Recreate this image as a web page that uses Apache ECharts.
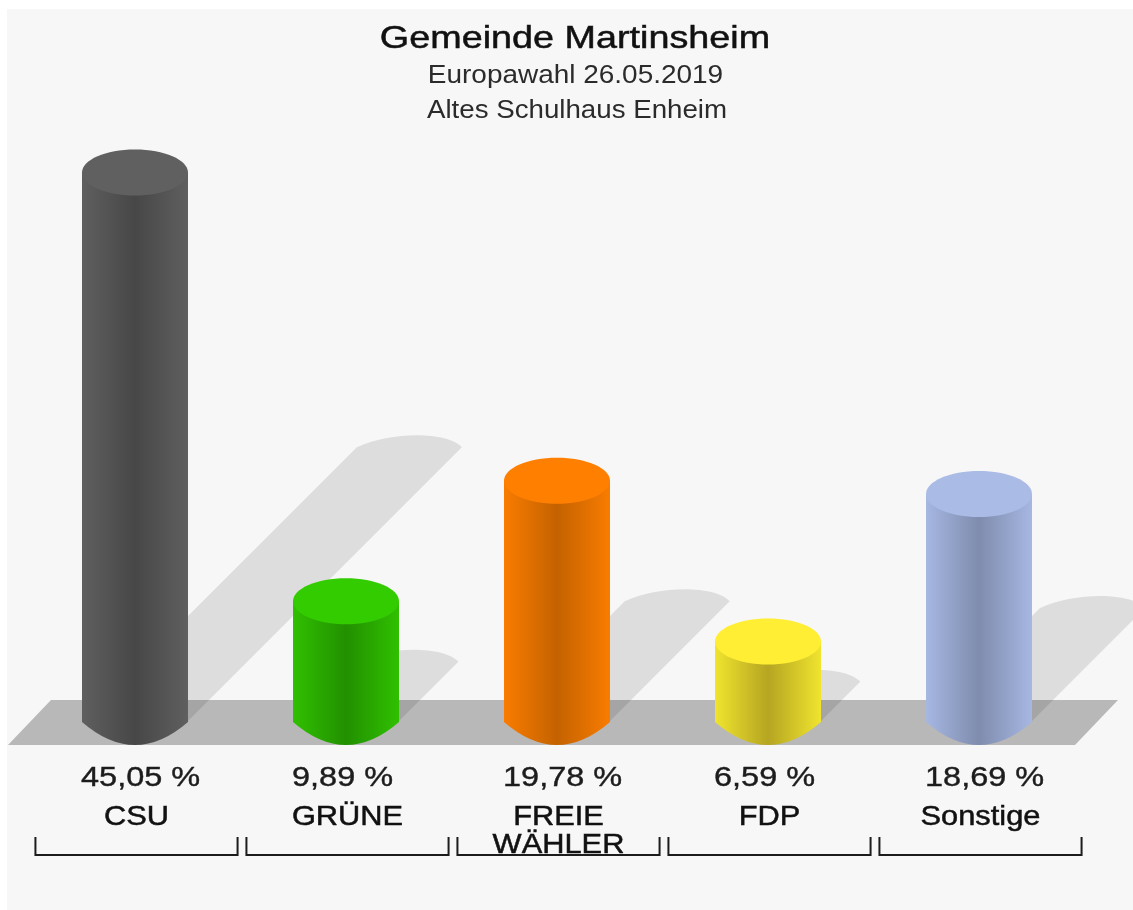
<!DOCTYPE html>
<html>
<head>
<meta charset="utf-8">
<style>
  html, body { margin: 0; padding: 0; background: #ffffff; }
  #chart-container { width: 1133px; height: 910px; }
</style>
<script src="https://cdn.jsdelivr.net/npm/echarts@6/dist/echarts.min.js"></script>
</head>
<body>
<div id="chart-container"></div>
<script>
var parties = ['CSU', 'GRÜNE', 'FREIE\nWÄHLER', 'FDP', 'Sonstige'];
var shares = [45.05, 9.89, 19.78, 6.59, 18.69];
var topColors = ['#606060', '#33cc00', '#ff7f00', '#ffee33', '#aabbe6'];
var sideColors = ['#5f5f5f', '#30c000', '#f97c00', '#f0e42e', '#a6b7e2'];
var darkColors = ['#474747', '#229000', '#c46200', '#b5a522', '#7f8cad'];

var RX = 53;
var TOP_RY = 23;
var BOTTOM_RY = 23;
var FONT = '"Liberation Sans", Arial, sans-serif';

function ellipsePath(cx, cy, rx, ry) {
    var kx = rx * 0.5523;
    var ky = ry * 0.5523;
    return 'M' + (cx - rx) + ' ' + cy +
        'C' + (cx - rx) + ' ' + (cy - ky) + ' ' + (cx - kx) + ' ' + (cy - ry) + ' ' + cx + ' ' + (cy - ry) +
        'C' + (cx + kx) + ' ' + (cy - ry) + ' ' + (cx + rx) + ' ' + (cy - ky) + ' ' + (cx + rx) + ' ' + cy +
        'C' + (cx + rx) + ' ' + (cy + ky) + ' ' + (cx + kx) + ' ' + (cy + ry) + ' ' + cx + ' ' + (cy + ry) +
        'C' + (cx - kx) + ' ' + (cy + ry) + ' ' + (cx - rx) + ' ' + (cy + ky) + ' ' + (cx - rx) + ' ' + cy + 'Z';
}

// shadow is the cylinder sheared 45deg, half as long as the bar
function renderShadow(params, api) {
    var base = api.coord([api.value(0), 0]);
    var top = api.coord([api.value(0), api.value(1)]);
    var cx = base[0] - 1.5;
    var t = (base[1] - top[1]) / 2;
    var ty = base[1] - t;
    var d = 'M' + (cx - RX) + ' ' + base[1] +
        'L' + (cx - RX + t) + ' ' + ty +
        'C' + (cx - RX + t + 34) + ' ' + (ty - 16) + ' ' + (cx + RX + t - 15) + ' ' + (ty - 16) + ' ' + (cx + RX + t - 1) + ' ' + ty +
        'L' + (cx + RX - 1) + ' ' + base[1] + 'Z';
    return {
        type: 'path',
        shape: { pathData: d },
        style: { fill: 'rgba(0,0,0,0.1)' }
    };
}

function renderBar(params, api) {
    var i = params.dataIndex;
    var base = api.coord([api.value(0), 0]);
    var top = api.coord([api.value(0), api.value(1)]);
    var band = api.size([1, 0])[0];
    var cx = base[0] - 1.5;
    var y0 = base[1];
    var y1 = top[1];
    var body = 'M' + (cx - RX) + ' ' + y1 +
        'L' + (cx - RX) + ' ' + y0 +
        'Q' + cx + ' ' + (y0 + 2 * BOTTOM_RY) + ' ' + (cx + RX) + ' ' + y0 +
        'L' + (cx + RX) + ' ' + y1 + 'Z';
    var left = base[0] - band * 0.479;
    var right = base[0] + band * 0.479;

    return {
        type: 'group',
        children: [
            {
                type: 'path',
                shape: { pathData: body },
                style: {
                    fill: new echarts.graphic.LinearGradient(0, 0, 1, 0, [
                        { offset: 0, color: sideColors[i] },
                        { offset: 0.5, color: darkColors[i] },
                        { offset: 1, color: sideColors[i] }
                    ])
                }
            },
            {
                type: 'path',
                shape: { pathData: ellipsePath(cx, y1, RX, TOP_RY) },
                style: { fill: topColors[i] }
            },
            {
                type: 'text',
                x: cx - RX - 1,
                y: 778,
                scaleX: 1.16,
                style: {
                    text: shares[i].toFixed(2).replace('.', ',') + ' %',
                    font: '28px ' + FONT,
                    fill: '#1c1c1c',
                    stroke: '#1c1c1c',
                    lineWidth: 0.4,
                    textAlign: 'left',
                    textVerticalAlign: 'middle'
                }
            },
            {
                type: 'text',
                x: base[0],
                y: 803,
                scaleX: 1.1,
                style: {
                    text: parties[i],
                    font: '28px ' + FONT,
                    lineHeight: 28,
                    fill: '#111111',
                    stroke: '#111111',
                    lineWidth: 0.5,
                    textAlign: 'center',
                    textVerticalAlign: 'top'
                }
            },
            {
                type: 'polyline',
                shape: { points: [[left, 837], [left, 855], [right, 855], [right, 837]] },
                style: { stroke: '#1c1c1c', lineWidth: 2, fill: null }
            }
        ]
    };
}

var dom = document.getElementById('chart-container');
var myChart = echarts.init(dom, null, { renderer: 'canvas' });

var seriesData = shares.map(function (v, i) { return [i, v]; });

var option = {
    animation: false,
    backgroundColor: '#ffffff',
    grid: { left: 31, right: 47, top: 112, height: 610 },
    xAxis: {
        type: 'category',
        data: parties,
        axisLine: { show: false },
        axisTick: { show: false },
        axisLabel: { show: false },
        splitLine: { show: false }
    },
    yAxis: {
        type: 'value',
        min: 0,
        max: 50,
        show: false
    },
    graphic: [
        { type: 'rect', z: 0, shape: { x: 7, y: 9, width: 1126, height: 901 }, style: { fill: '#f7f7f7' } },
        { type: 'polygon', z: 1, shape: { points: [[8, 745], [51, 700], [1118, 700], [1075, 745]] }, style: { fill: '#b8b8b8' } },
        { type: 'text', z: 5, x: 575, y: 39, scaleX: 1.18, style: { text: 'Gemeinde Martinsheim', font: '32px ' + FONT, fill: '#111111', stroke: '#111111', lineWidth: 0.5, textAlign: 'center', textVerticalAlign: 'middle' } },
        { type: 'text', z: 5, x: 575.5, y: 76, scaleX: 1.075, style: { text: 'Europawahl 26.05.2019', font: '26px ' + FONT, fill: '#2b2b2b', textAlign: 'center', textVerticalAlign: 'middle' } },
        { type: 'text', z: 5, x: 577, y: 111, scaleX: 1.065, style: { text: 'Altes Schulhaus Enheim', font: '26px ' + FONT, fill: '#2b2b2b', textAlign: 'center', textVerticalAlign: 'middle' } }
    ],
    series: [
        { type: 'custom', name: 'Schatten', z: 2, renderItem: renderShadow, encode: { x: 0, y: 1 }, data: seriesData },
        { type: 'custom', name: 'Stimmenanteil', z: 3, renderItem: renderBar, encode: { x: 0, y: 1 }, data: seriesData }
    ]
};

myChart.setOption(option);
window.addEventListener('resize', myChart.resize);
</script>
</body>
</html>
